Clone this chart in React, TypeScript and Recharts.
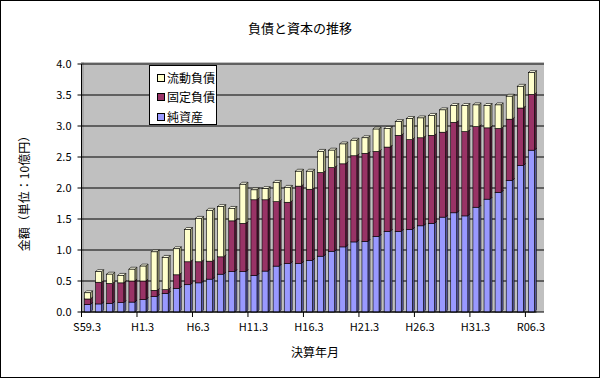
import React from 'react';
import { BarChart, Bar, XAxis, YAxis, CartesianGrid, Legend } from 'recharts';

const categories = [
  'S59.3', 'S60.3', 'S61.3', 'S62.3', 'S63.3',
  'H1.3', 'H2.3', 'H3.3', 'H4.3', 'H5.3', 'H6.3', 'H7.3', 'H8.3', 'H9.3', 'H10.3',
  'H11.3', 'H12.3', 'H13.3', 'H14.3', 'H15.3', 'H16.3', 'H17.3', 'H18.3', 'H19.3', 'H20.3',
  'H21.3', 'H22.3', 'H23.3', 'H24.3', 'H25.3', 'H26.3', 'H27.3', 'H28.3', 'H29.3', 'H30.3',
  'H31.3', 'R02.3', 'R03.3', 'R04.3', 'R05.3', 'R06.3',
];

// 純資産
const netAssets = [
  0.12, 0.13, 0.14, 0.15, 0.16, 0.20, 0.25, 0.30, 0.38, 0.44,
  0.47, 0.53, 0.61, 0.65, 0.65, 0.59, 0.66, 0.74, 0.78, 0.78,
  0.83, 0.90, 0.98, 1.05, 1.13, 1.14, 1.22, 1.30, 1.30, 1.33,
  1.39, 1.43, 1.53, 1.60, 1.55, 1.69, 1.82, 1.93, 2.12, 2.36, 2.61,
];

// 固定負債
const fixedLiabilities = [
  0.09, 0.35, 0.32, 0.32, 0.34, 0.30, 0.10, 0.06, 0.22, 0.37,
  0.34, 0.29, 0.28, 0.82, 0.78, 1.22, 1.15, 1.04, 0.99, 1.25,
  1.15, 1.35, 1.35, 1.34, 1.39, 1.42, 1.37, 1.36, 1.55, 1.45,
  1.42, 1.42, 1.37, 1.46, 1.36, 1.30, 1.15, 1.03, 0.99, 0.93, 0.90,
];

// 流動負債
const currentLiabilities = [
  0.10, 0.17, 0.15, 0.12, 0.19, 0.24, 0.62, 0.52, 0.42, 0.52,
  0.70, 0.82, 0.81, 0.20, 0.63, 0.16, 0.18, 0.31, 0.24, 0.24,
  0.29, 0.34, 0.28, 0.32, 0.25, 0.25, 0.36, 0.30, 0.22, 0.34,
  0.32, 0.32, 0.36, 0.27, 0.42, 0.35, 0.36, 0.38, 0.37, 0.35, 0.35,
];

const yTicks = [0, 0.5, 1, 1.5, 2, 2.5, 3, 3.5, 4];

const data = categories.map((name, i) => ({
  name,
  net: netAssets[i],
  fixed: fixedLiabilities[i],
  current: currentLiabilities[i],
}));

const FONT = '"Noto Sans CJK JP", "DejaVu Sans", sans-serif';
const DEPTH = 2;

const make3D = (side: string, top: string) => (props: any) => {
  const { x, y, width, height, fill } = props;
  if (height == null || height <= 0 || width == null) return <g />;
  const d = DEPTH;
  return (
    <g>
      <polygon
        points={`${x + width},${y} ${x + width + d},${y - d} ${x + width + d},${y + height - d} ${x + width},${y + height}`}
        fill={side}
        stroke="#000"
        strokeWidth={0.6}
      />
      <polygon
        points={`${x},${y} ${x + d},${y - d} ${x + width + d},${y - d} ${x + width},${y}`}
        fill={top}
        stroke="#000"
        strokeWidth={0.6}
      />
      <rect x={x} y={y} width={width} height={height} fill={fill} stroke="#000" strokeWidth={0.6} />
    </g>
  );
};

const PLOT_LEFT = 81.5;
const PLOT_RIGHT = 536.5;
const CAT_W = (PLOT_RIGHT - PLOT_LEFT) / categories.length;

const XTick = (props: any) => {
  const { x, y, payload } = props;
  const bx = x - CAT_W / 2;
  return (
    <g>
      <line x1={bx} x2={bx} y1={y - 8} y2={y - 3} stroke="#000" strokeWidth={1} />
      <text x={x} y={y + 11} textAnchor="middle" fontSize={11} fontFamily={FONT} fill="#000">
        {payload.value}
      </text>
    </g>
  );
};

const legendItems = [
  { label: '流動負債', color: '#FFFFCC' },
  { label: '固定負債', color: '#993366' },
  { label: '純資産', color: '#9999FF' },
];

const LegendBox = () => (
  <div
    style={{
      background: '#fff',
      border: '1px solid #000',
      width: 68,
      height: 60,
      boxSizing: 'border-box',
      padding: '2px 0 0 7px',
      fontFamily: FONT,
      fontSize: 12,
      color: '#000',
    }}
  >
    {legendItems.map((it) => (
      <div key={it.label} style={{ display: 'flex', alignItems: 'center', height: 19.5 }}>
        <span
          style={{
            display: 'inline-block',
            width: 6,
            height: 6,
            background: it.color,
            border: '1px solid #000',
            marginRight: 2,
          }}
        />
        <span style={{ lineHeight: '14px' }}>{it.label}</span>
      </div>
    ))}
  </div>
);

export default function App() {
  return (
    <div style={{ position: 'absolute', left: 0, top: 0, width: 600, height: 378, background: '#fff' }}>
      {/* back wall */}
      <div style={{ position: 'absolute', left: 81, top: 62, width: 463, height: 250, background: '#C0C0C0' }} />
      <div style={{ position: 'absolute', left: 81, top: 62, width: 3, height: 250, background: '#A8A8A8' }} />
      <div style={{ position: 'absolute', left: 0, top: 0 }}>
        <BarChart
          width={600}
          height={378}
          data={data}
          margin={{ top: 64, right: 63.5, bottom: 0, left: 0 }}
          barSize={6}
        >
          <CartesianGrid
            vertical={false}
            stroke="#000"
            strokeWidth={1}
            horizontal={(p: any) => (
              <line key={p.key ?? `h-${p.index}`} x1={p.x1} x2={p.x2 + 7.5} y1={p.y1} y2={p.y2} stroke="#000" strokeWidth={1} />
            )}
          />
          <XAxis
            dataKey="name"
            interval={4}
            height={66}
            tickLine={false}
            tick={<XTick />}
            axisLine={{ stroke: '#000' }}
          />
          <YAxis
            width={81.5}
            domain={[0, 4]}
            ticks={yTicks}
            tickFormatter={(v: number) => v.toFixed(1)}
            tick={{ fontSize: 11, fill: '#000', fontFamily: FONT }}
            tickLine={{ stroke: '#000' }}
            tickSize={4}
            tickMargin={6}
            axisLine={{ stroke: '#000' }}
            interval={0}
          />
          <Legend
            layout="vertical"
            align="center"
            verticalAlign="middle"
            content={() => <LegendBox />}
            wrapperStyle={{ left: 149, top: 65, width: 68, height: 60 }}
          />
          <Bar dataKey="net" name="純資産" stackId="a" fill="#9999FF" isAnimationActive={false} shape={make3D('#5C5CA8', '#B8B8FF')} />
          <Bar dataKey="fixed" name="固定負債" stackId="a" fill="#993366" isAnimationActive={false} shape={make3D('#5A1E3C', '#B35C85')} />
          <Bar dataKey="current" name="流動負債" stackId="a" fill="#FFFFCC" isAnimationActive={false} shape={make3D('#A8A880', '#FFFFE6')} />
        </BarChart>
      </div>
      <div
        style={{
          position: 'absolute', left: 0, top: 18, width: 600, textAlign: 'center',
          fontFamily: FONT, fontSize: 13, color: '#000',
        }}
      >
        負債と資本の推移
      </div>
      <div
        style={{
          position: 'absolute', left: 262, top: 343, width: 106, textAlign: 'center',
          fontFamily: FONT, fontSize: 12, color: '#000',
        }}
      >
        決算年月
      </div>
      <div
        style={{
          position: 'absolute', left: 23, top: 190, width: 0, height: 0,
        }}
      >
        <div
          style={{
            position: 'absolute', left: -80, top: -8, width: 160, textAlign: 'center',
            transform: 'rotate(-90deg)', fontFamily: FONT, fontSize: 12, color: '#000', whiteSpace: 'nowrap',
          }}
        >
          金額（単位：10億円）
        </div>
      </div>
      <div
        style={{
          position: 'absolute', left: 0, top: 0, width: 600, height: 378,
          border: '1px solid #000', boxSizing: 'border-box', pointerEvents: 'none',
        }}
      />
    </div>
  );
}
